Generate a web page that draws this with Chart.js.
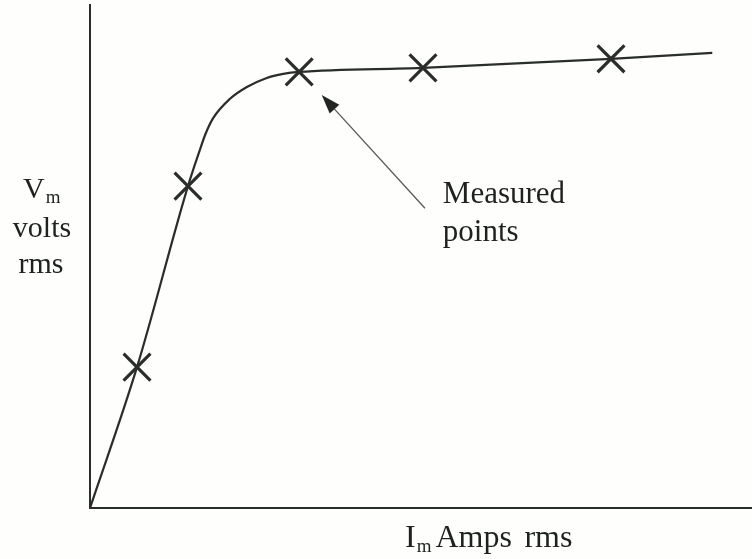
<!DOCTYPE html>
<html>
<head>
<meta charset="utf-8">
<script src="https://cdn.jsdelivr.net/npm/chart.js@4.4.0/dist/chart.umd.min.js"></script>
<style>
  html, body { margin: 0; padding: 0; background: #fefefd; }
  #wrap { width: 752px; height: 559px; }
</style>
</head>
<body>
<div id="wrap"><canvas id="magChart" width="752" height="559"></canvas></div>
<script>
// magnetising curve: current vs voltage
const curveI = [0, 0.71, 1.48, 1.66, 1.74, 1.86, 2.11, 2.37, 2.67, 2.92, 3.16, 5.03, 7.87, 9.40];
const curveV = [0, 2.80, 6.40, 7.12, 7.42, 7.75, 8.13, 8.37, 8.55, 8.63, 8.67, 8.75, 8.93, 9.05];

// the measured points (crosses)
const measI = [0.71, 1.48, 3.16, 5.03, 7.87];
const measV = [2.80, 6.40, 8.67, 8.75, 8.93];

// arrow from the note to the third measured point
const arrowFrom = [5.06, 5.96];
const arrowTo = [3.50, 8.21];
const noteLines = ['Measured', 'points'];

const ink = '#2a2e2a';
const textInk = '#1e221e';
const serif = '"Liberation Serif", "DejaVu Serif", serif';

const curve = curveI.map((x, i) => ({ x: x, y: curveV[i] }));
const measured = measI.map((x, i) => ({ x: x, y: measV[i] }));

// draws "main" then a small subscript right after it
function subText(ctx, main, sub, x, y, size) {
  ctx.font = size + 'px ' + serif;
  ctx.fillText(main, x, y);
  const w = ctx.measureText(main).width;
  ctx.font = '19px ' + serif;
  ctx.fillText(sub, x + w + 1, y + 5);
  const ws = ctx.measureText(sub).width;
  ctx.font = size + 'px ' + serif;
  return x + w + 1 + ws;
}

const labelsPlugin = {
  id: 'labels',
  afterDraw(chart) {
    const ctx = chart.ctx;
    const area = chart.chartArea;
    const xs = chart.scales.x, ys = chart.scales.y;
    ctx.save();
    ctx.fillStyle = textInk;
    ctx.textBaseline = 'alphabetic';

    // y axis title
    ctx.textAlign = 'left';
    subText(ctx, 'V', 'm', area.left - 67, 198, 30);
    ctx.textAlign = 'center';
    ctx.fillText('volts', area.left - 48, 237);
    ctx.fillText('rms', area.left - 49, 273);

    // x axis title
    ctx.textAlign = 'left';
    const end = subText(ctx, 'I', 'm', 405, area.bottom + 39, 32);
    ctx.fillText('Amps', end + 4, area.bottom + 39);
    ctx.fillText('rms', end + 93, area.bottom + 39);

    // note text
    ctx.font = '31px ' + serif;
    const nx = xs.getPixelForValue(5.33);
    ctx.fillText(noteLines[0], nx, ys.getPixelForValue(6.06));
    ctx.fillText(noteLines[1], nx, ys.getPixelForValue(5.30));

    // arrow
    const x1 = xs.getPixelForValue(arrowFrom[0]), y1 = ys.getPixelForValue(arrowFrom[1]);
    const x2 = xs.getPixelForValue(arrowTo[0]), y2 = ys.getPixelForValue(arrowTo[1]);
    const ang = Math.atan2(y2 - y1, x2 - x1);
    const headLen = 19, headW = 6.5;
    const bx = x2 - headLen * Math.cos(ang), by = y2 - headLen * Math.sin(ang);
    ctx.strokeStyle = '#555a55';
    ctx.lineWidth = 1.3;
    ctx.beginPath();
    ctx.moveTo(x1, y1);
    ctx.lineTo(bx, by);
    ctx.stroke();
    ctx.fillStyle = '#222622';
    ctx.beginPath();
    ctx.moveTo(x2, y2);
    ctx.lineTo(bx + headW * Math.sin(ang), by - headW * Math.cos(ang));
    ctx.lineTo(bx - headW * Math.sin(ang), by + headW * Math.cos(ang));
    ctx.closePath();
    ctx.fill();
    ctx.restore();
  }
};

new Chart(document.getElementById('magChart').getContext('2d'), {
  type: 'scatter',
  data: {
    datasets: [
      {
        data: measured,
        showLine: false,
        pointStyle: 'crossRot',
        pointRadius: 19,
        pointBorderWidth: 3.2,
        borderColor: ink,
        backgroundColor: ink
      },
      {
        data: curve,
        showLine: true,
        borderColor: ink,
        borderWidth: 2.2,
        pointRadius: 0,
        cubicInterpolationMode: 'monotone'
      }
    ]
  },
  options: {
    responsive: false,
    animation: false,
    layout: { autoPadding: false, padding: { left: 90, right: 0, top: 5, bottom: 51 } },
    plugins: { legend: { display: false }, tooltip: { enabled: false } },
    scales: {
      x: {
        type: 'linear', min: 0, max: 10,
        ticks: { display: false },
        grid: { display: false, drawTicks: false },
        border: { display: true, color: ink, width: 2 }
      },
      y: {
        type: 'linear', min: 0, max: 10,
        ticks: { display: false },
        grid: { display: false, drawTicks: false },
        border: { display: true, color: ink, width: 2 }
      }
    }
  },
  plugins: [labelsPlugin]
});
</script>
</body>
</html>
